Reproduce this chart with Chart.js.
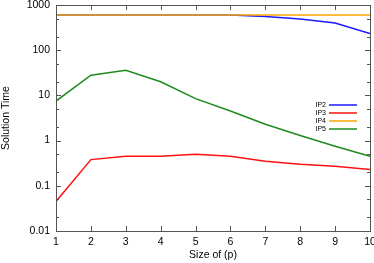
<!DOCTYPE html>
<html>
<head>
<meta charset="utf-8">
<script src="https://cdn.jsdelivr.net/npm/chart.js@4"></script>
<style>
  html, body { margin: 0; padding: 0; background: #fff; }
  #wrap { width: 374px; height: 263px; }
</style>
</head>
<body>
<div id="wrap"><canvas id="chart"></canvas></div>
<script>
Chart.defaults.font.family = '"Liberation Sans", Arial, sans-serif';
Chart.defaults.color = "#000";

const sizes = [1, 2, 3, 4, 5, 6, 7, 8, 9, 10];
const ip2 = [600, 600, 600, 600, 600, 600, 555, 490, 400, 235];
const ip3 = [0.045, 0.38, 0.45, 0.45, 0.5, 0.45, 0.35, 0.3, 0.27, 0.23];
const ip4 = [600, 600, 600, 600, 600, 600, 600, 600, 600, 600];
const ip5 = [7.5, 28, 36, 20, 8.5, 4.5, 2.3, 1.3, 0.75, 0.45];
const yTicks = [0.01, 0.02, 0.05, 0.1, 0.2, 0.5, 1, 2, 5, 10, 20, 50, 100, 200, 500, 1000];
const yLabels = ["0.01", "0.1", "1", "10", "100", "1000"];

const isMajor = (v) => yLabels.includes(String(v));

// gnuplot-like inward ticks on all four sides + in-plot legend
const frame = {
  id: "frame",
  afterDatasetsDraw(chart) {
    const c = chart.ctx;
    const a = chart.chartArea;
    const xs = chart.scales.x;
    const ys = chart.scales.y;
    c.save();
    c.strokeStyle = "#555";
    c.lineWidth = 1;
    c.beginPath();
    xs.ticks.forEach((t) => {
      const px = Math.round(xs.getPixelForValue(t.value)) + 0.5;
      c.moveTo(px, a.bottom); c.lineTo(px, a.bottom - 5);
      c.moveTo(px, a.top); c.lineTo(px, a.top + 5);
    });
    yTicks.forEach((v) => {
      const py = Math.round(ys.getPixelForValue(v)) + 0.5;
      const len = isMajor(v) ? 5 : 3;
      c.moveTo(a.left, py); c.lineTo(a.left + len, py);
      c.moveTo(a.right, py); c.lineTo(a.right - len, py);
    });
    c.stroke();
    c.strokeRect(Math.round(a.left) + 0.5, Math.round(a.top) + 0.5,
      Math.round(a.right - a.left), Math.round(a.bottom - a.top));

    // legend
    c.font = '7px "Liberation Sans", Arial, sans-serif';
    c.textAlign = "right";
    c.textBaseline = "middle";
    chart.data.datasets.forEach((ds, i) => {
      const y = a.top + 100 + i * 8;
      const x = a.right - 44;
      c.fillStyle = "#000";
      c.fillText(ds.label, x, y);
      c.strokeStyle = ds.borderColor;
      c.lineWidth = 1.5;
      c.beginPath();
      c.moveTo(x + 3, y); c.lineTo(x + 31, y);
      c.stroke();
    });
    c.restore();
  },
};

const ctx = document.getElementById("chart");
new Chart(ctx, {
  type: "line",
  data: {
    labels: sizes,
    datasets: [
      { label: "IP2", data: ip2, borderColor: "#1a1aff", order: 2 },
      { label: "IP3", data: ip3, borderColor: "#ff1010", order: 3 },
      { label: "IP4", data: ip4, borderColor: "#ffa500", order: 1 },
      { label: "IP5", data: ip5, borderColor: "#1e8a1e", order: 4 },
    ],
  },
  options: {
    responsive: true,
    maintainAspectRatio: false,
    animation: false,
    elements: {
      line: { borderWidth: 1.5, tension: 0 },
      point: { radius: 0 },
    },
    layout: { padding: { left: 0, right: 0, top: 5, bottom: 0 } },
    scales: {
      x: {
        type: "linear",
        min: 1,
        max: 10,
        grid: { display: false, drawTicks: false },
        border: { display: false },
        ticks: { stepSize: 1, padding: 5, font: { size: 10.5 } },
        title: { display: true, text: "Size of (p)", font: { size: 10.5 }, padding: { top: 0, bottom: 2 } },
        afterFit(scale) {
          scale.height = 32;
          scale.paddingRight = 4;
          scale.paddingLeft = 0;
        },
      },
      y: {
        type: "logarithmic",
        min: 0.01,
        max: 1000,
        grid: { display: false, drawTicks: false },
        border: { display: false },
        afterBuildTicks(scale) {
          scale.ticks = yLabels.map((s) => ({ value: Number(s) }));
        },
        ticks: {
          padding: 6,
          font: { size: 10.5 },
          callback: (v) => String(v),
        },
        title: { display: true, text: "Solution Time", font: { size: 10.5 }, padding: { top: 0, bottom: 4 } },
        afterFit(scale) {
          scale.width = 56;
          scale.paddingTop = 0;
          scale.paddingBottom = 0;
        },
      },
    },
    plugins: {
      legend: { display: false },
      tooltip: { enabled: false },
    },
  },
  plugins: [frame],
});
</script>
</body>
</html>
